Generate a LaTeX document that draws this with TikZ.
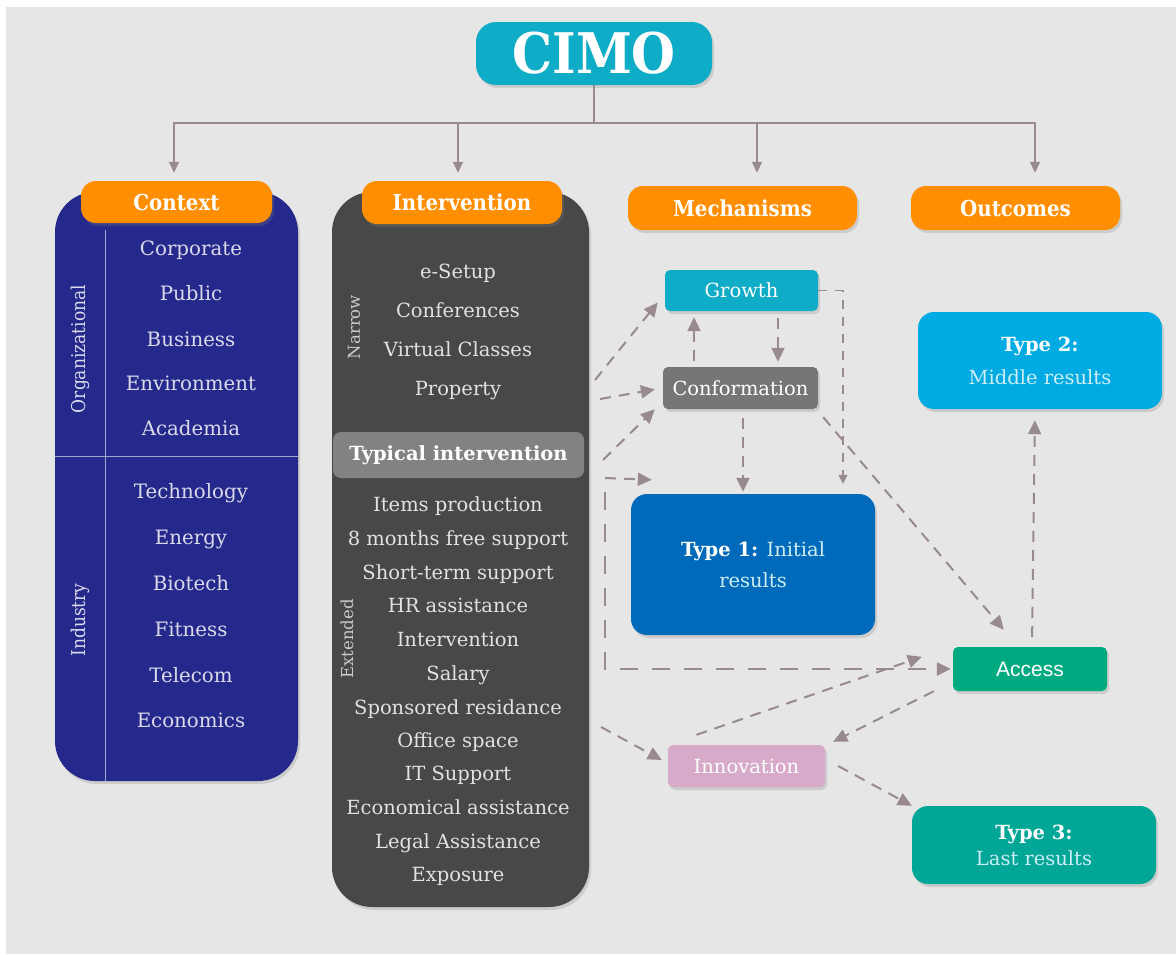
\documentclass[tikz,border=0pt]{standalone}
\usepackage{fontspec}
\setmainfont{DejaVu Serif}
\newfontfamily\condfont{DejaVu Serif Condensed}
\newfontfamily\accessfont{Liberation Sans}
\usetikzlibrary{arrows.meta}
\usetikzlibrary{shadows}

\definecolor{bggray}{RGB}{230,230,230}
\definecolor{cimocyan}{RGB}{14,172,198}
\definecolor{headorange}{RGB}{255,142,0}
\definecolor{ctxblue}{RGB}{38,41,140}
\definecolor{intgray}{RGB}{72,72,72}
\definecolor{typgray}{RGB}{130,130,130}
\definecolor{linegray}{RGB}{152,138,142}
\definecolor{confgray}{RGB}{118,118,118}
\definecolor{typeoneblue}{RGB}{0,106,186}
\definecolor{typetwoblue}{RGB}{0,170,226}
\definecolor{accessgreen}{RGB}{0,170,128}
\definecolor{innopink}{RGB}{214,170,200}
\definecolor{typethreeteal}{RGB}{0,166,150}
\definecolor{ctxtext}{RGB}{218,218,236}
\definecolor{inttext}{RGB}{226,226,226}
\definecolor{resulttext}{RGB}{205,238,246}

\begin{document}
\begin{tikzpicture}[x=1pt, y=-1pt,
    boxshadow/.style={drop shadow={opacity=0.25, shadow xshift=2pt, shadow yshift=-3pt}},
    panel/.style={rounded corners=40pt, inner sep=0pt, boxshadow},
    header/.style={fill=headorange, rounded corners=15pt, inner sep=0pt, text=white,
      font=\condfont\bfseries\fontsize{22}{22}\selectfont, boxshadow},
    mech/.style={rounded corners=5pt, inner sep=0pt, text=white,
      font=\fontsize{19.5}{19.5}\selectfont, boxshadow},
    result/.style={rounded corners=16pt, inner sep=0pt, align=center, text=white,
      minimum width=244pt, boxshadow},
    ctxitem/.style={text=ctxtext, text height=14pt, text depth=4pt, inner sep=0pt,
      font=\fontsize{19.8}{19.8}\selectfont},
    intitem/.style={text=inttext, text height=14pt, text depth=4pt, inner sep=0pt,
      font=\fontsize{19.5}{19.5}\selectfont},
    sidelabel/.style={rotate=90, inner sep=0pt, text=ctxtext,
      font=\condfont\fontsize{19}{19}\selectfont},
    divider/.style={draw=ctxtext!70!ctxblue, line width=1pt},
    conn/.style={draw=linegray, line width=1.6pt, -{Triangle[length=11pt,width=10pt]}},
    flow/.style={draw=linegray, line width=2pt, dash pattern=on 11pt off 8pt,
      -{Triangle[length=14pt,width=13pt]}}]
    \useasboundingbox (0,0) rectangle (1176,954);
    \fill[white] (0,0) rectangle (1176,954);
    \fill[bggray] (6,7) rectangle (1176,954);

    % top of the tree
    \node[fill=cimocyan, rounded corners=20pt, minimum width=236pt, minimum height=63pt,
      inner sep=0pt, text=white, font=\condfont\bfseries\fontsize{56}{56}\selectfont,
      boxshadow] (cimo) at (594,53.5) {CIMO};
    \coordinate (bus) at (594,123);

    % context column
    \node[panel, fill=ctxblue, minimum width=243pt, minimum height=589pt] (ctxpanel) at (176.5,486.5) {};
    \draw[divider] (105,230) -- (105,781);
    \draw[divider] (55,456) -- (298,456);
    \node[header, minimum width=191pt, minimum height=42pt] (ctxhead) at (176.5,202) {Context};
    \node[sidelabel] (org) at (80,349) {Organizational};
    \node[sidelabel] (ind) at (80,620) {Industry};
    \node[ctxitem] (corp) at (191,250) {Corporate};
    \node[ctxitem] (pub) at (191,295) {Public};
    \node[ctxitem] (bus1) at (191,341) {Business};
    \node[ctxitem] (env) at (191,385) {Environment};
    \node[ctxitem] (acad) at (191,430) {Academia};
    \node[ctxitem] (tech) at (191,493) {Technology};
    \node[ctxitem] (ener) at (191,539) {Energy};
    \node[ctxitem] (bio) at (191,585) {Biotech};
    \node[ctxitem] (fit) at (191,631) {Fitness};
    \node[ctxitem] (tele) at (191,677) {Telecom};
    \node[ctxitem] (econ) at (191,722) {Economics};

    % intervention column
    \node[panel, fill=intgray, minimum width=257pt, minimum height=715pt] (intpanel) at (460.5,549.5) {};
    \node[header, minimum width=200pt, minimum height=43pt] (inthead) at (462,202.5) {Intervention};
    \node[sidelabel, text=inttext!85!intgray, font=\fontsize{16.5}{16.5}\selectfont] (narrow) at (354,327) {Narrow};
    \node[sidelabel, text=inttext!85!intgray, font=\fontsize{16.5}{16.5}\selectfont] (ext) at (347,639) {Extended};
    \node[intitem] (esetup) at (458,273) {e-Setup};
    \node[intitem] (conf1) at (458,312) {Conferences};
    \node[intitem] (virt) at (458,351) {Virtual Classes};
    \node[intitem] (prop) at (458,390) {Property};
    \node[fill=typgray, rounded corners=8pt, minimum width=251pt, minimum height=46pt,
      inner sep=0pt, text=white, font=\bfseries\fontsize{19.5}{19.5}\selectfont] (typical) at (458.5,455) {Typical intervention};
    \node[intitem] (items) at (458,506) {Items production};
    \node[intitem] (months) at (458,540) {8 months free support};
    \node[intitem] (short) at (458,574) {Short-term support};
    \node[intitem] (hr) at (458,607) {HR assistance};
    \node[intitem] (interv) at (458,641) {Intervention};
    \node[intitem] (sal) at (458,675) {Salary};
    \node[intitem] (spons) at (458,709) {Sponsored residance};
    \node[intitem] (office) at (458,742) {Office space};
    \node[intitem] (it) at (458,775) {IT Support};
    \node[intitem] (ecoas) at (458,809) {Economical assistance};
    \node[intitem] (legal) at (458,843) {Legal Assistance};
    \node[intitem] (expo) at (458,876) {Exposure};

    % mechanisms and outcomes
    \node[header, minimum width=229pt, minimum height=44pt] (mechhead) at (742.5,208) {Mechanisms};
    \node[header, minimum width=209pt, minimum height=44pt] (outhead) at (1015.5,208) {Outcomes};
    \node[mech, fill=cimocyan, minimum width=153pt, minimum height=41pt] (growth) at (741.5,290.5) {Growth};
    \node[mech, fill=confgray, minimum width=155pt, minimum height=42pt] (conform) at (740.5,388) {Conformation};
    \node[mech, fill=innopink, minimum width=157pt, minimum height=42pt] (innov) at (746.5,766) {Innovation};
    \node[mech, fill=accessgreen, minimum width=154pt, minimum height=44pt,
      font=\accessfont\fontsize{21}{21}\selectfont] (access) at (1030,669) {Access};
    \node[result, fill=typeoneblue, minimum height=141pt, font=\fontsize{19.5}{31}\selectfont] (typeone) at (753,564.5)
      {\textbf{Type 1:} \color{resulttext}Initial\\ \color{resulttext}results};
    \node[result, fill=typetwoblue, minimum height=97pt, font=\fontsize{19.5}{33}\selectfont] (typetwo) at (1040,360.5)
      {\textbf{Type 2:}\\ \color{resulttext}Middle results};
    \node[result, fill=typethreeteal, minimum height=78pt, font=\fontsize{19.5}{26}\selectfont] (typethree) at (1034,845)
      {\textbf{Type 3:}\\ \color{resulttext}Last results};

    % tree connectors
    \draw[conn, shorten >=8pt] (cimo.south) -- (bus) -| ([xshift=-2.5pt]ctxhead.north);
    \draw[conn, shorten >=8pt] (cimo.south) -- (bus) -| ([xshift=-4pt]inthead.north);
    \draw[conn, shorten >=13pt] (cimo.south) -- (bus) -| ([xshift=14.5pt]mechhead.north);
    \draw[conn, shorten >=13pt] (cimo.south) -- (bus) -| ([xshift=19.5pt]outhead.north);

    % free ends on the intervention panel
    \coordinate (p1) at (595,380);
    \coordinate (p2) at (600,399);
    \coordinate (p3) at (603,460);
    \coordinate (p4) at (605,478);
    \coordinate (p5) at (605,492);
    \coordinate (p6) at (601,727);

    % dashed flows
    \draw[flow] (p1) -- ([xshift=-7pt,yshift=-12pt]growth.west);
    \draw[flow, shorten >=8pt] (p2) -- (conform.west);
    \draw[flow] (p3) -- ([xshift=-8pt]conform.south west);
    \draw[flow] (p4) -- ([xshift=21pt,yshift=14pt]typeone.north west);
    \draw[flow, line width=2.4pt, dash pattern=on 18pt off 14pt] (p5) |- ([xshift=-2pt]access.west);
    \draw[flow] (p6) -- ([xshift=-6pt,yshift=6pt]innov.west);
    \draw[flow, shorten <=6pt, shorten >=6pt] ([xshift=-46.5pt]conform.north) -- ([xshift=-47.5pt]growth.south);
    \draw[flow, shorten <=7pt, shorten >=5pt] ([xshift=36.5pt]growth.south) -- ([xshift=37.5pt]conform.north);
    \draw[flow, line width=1.6pt, dash pattern=on 9pt off 8pt, -{Triangle[length=9pt,width=9pt]}]
      (growth.east) -| ([xshift=90pt,yshift=10pt]typeone.north);
    \draw[flow, shorten <=9pt, shorten >=2pt] ([xshift=2.5pt]conform.south) -- ([xshift=-10pt]typeone.north);
    \draw[flow] ([xshift=5pt,yshift=-8pt]conform.south east) -- ([xshift=51pt,yshift=17pt]access.north west);
    \draw[flow, shorten <=10pt, shorten >=11pt] ([xshift=2pt]access.north) -- ([xshift=-5pt]typetwo.south);
    \draw[flow] ([xshift=-50pt,yshift=10pt]innov.north) -- ([xshift=-31pt,yshift=-10pt]access.north west);
    \draw[flow] ([xshift=-19pt]access.south west) -- ([xshift=8pt,yshift=3pt]innov.north east);
    \draw[flow] ([xshift=13pt]innov.east) -- (typethree.north west);
\end{tikzpicture}
\end{document}
